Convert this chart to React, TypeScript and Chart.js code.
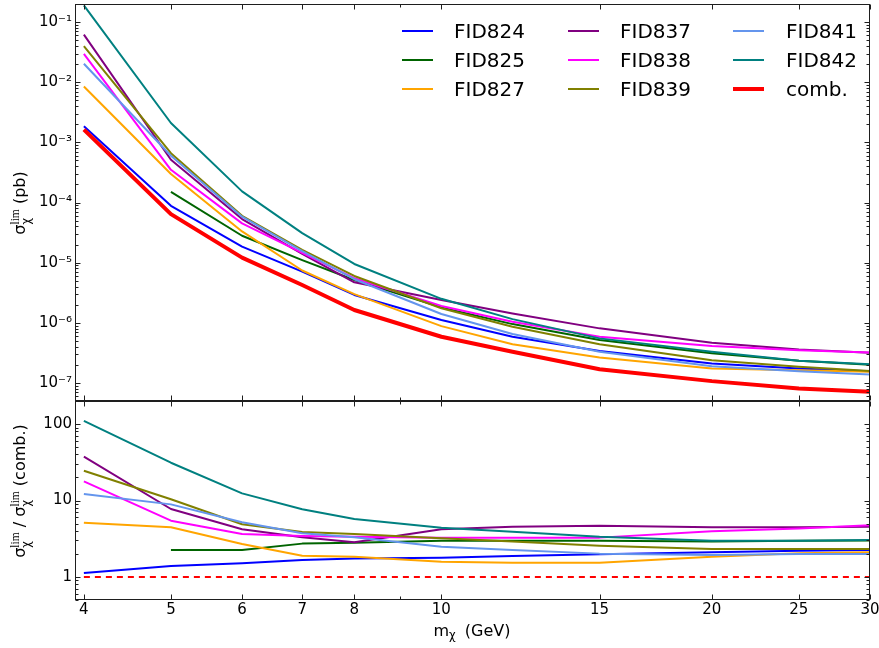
import React, { useEffect, useRef } from 'react';
import { Chart, registerables } from 'chart.js';

Chart.register(...registerables);
Chart.defaults.font.family = '"DejaVu Sans", sans-serif';
Chart.defaults.color = '#000';

// ---------------- data ----------------
const masses = [4, 5, 6, 7, 8, 10, 12, 15, 20, 25, 30];

// sigma_lim (pb)
const limFID824 = [1.85e-3, 8.8e-5, 1.85e-5, 7.1e-6, 2.9e-6, 1.11e-6, 5.85e-7, 3.4e-7, 2.1e-7, 1.74e-7, 1.56e-7];
const limFID825 = [null, 1.5e-4, 2.8e-5, 1.1e-5, 5.15e-6, 1.8e-6, 9.5e-7, 5.15e-7, 3.1e-7, 2.33e-7, 2.0e-7];
const limFID827 = [8.5e-3, 2.97e-4, 3.3e-5, 7.4e-6, 3.0e-6, 8.8e-7, 4.4e-7, 2.65e-7, 1.74e-7, 1.63e-7, 1.53e-7];
const limFID837 = [6.2e-2, 5.15e-4, 5.3e-5, 1.4e-5, 4.7e-6, 2.4e-6, 1.43e-6, 8.07e-7, 4.64e-7, 3.6e-7, 3.16e-7];
const limFID838 = [2.97e-2, 3.5e-4, 4.5e-5, 1.45e-5, 5.5e-6, 1.9e-6, 1.04e-6, 5.85e-7, 4.1e-7, 3.5e-7, 3.2e-7];
const limFID839 = [4.0e-2, 6.6e-4, 6.0e-5, 1.63e-5, 6.0e-6, 1.74e-6, 8.6e-7, 4.4e-7, 2.39e-7, 1.85e-7, 1.58e-7];
const limFID841 = [2.03e-2, 6.0e-4, 5.8e-5, 1.55e-5, 5.3e-6, 1.4e-6, 6.5e-7, 3.3e-7, 1.9e-7, 1.56e-7, 1.38e-7];
const limFID842 = [1.9e-1, 2.1e-3, 1.53e-4, 3.1e-5, 9.5e-6, 2.5e-6, 1.15e-6, 5.5e-7, 3.3e-7, 2.33e-7, 2.05e-7];
const limComb = [1.63e-3, 6.4e-5, 1.21e-5, 4.25e-6, 1.63e-6, 5.85e-7, 3.3e-7, 1.69e-7, 1.07e-7, 8.1e-8, 7.1e-8];

// sigma_lim / sigma_lim(comb.)
const ratioFID824 = [1.13, 1.39, 1.51, 1.67, 1.75, 1.79, 1.88, 1.98, 2.1, 2.21, 2.25];
const ratioFID825 = [null, 2.25, 2.25, 2.73, 2.81, 2.98, 2.98, 2.98, 2.9, 2.98, 3.0];
const ratioFID827 = [5.13, 4.46, 2.7, 1.9, 1.84, 1.58, 1.54, 1.54, 1.84, 2.04, 2.1];
const ratioFID837 = [37.4, 7.74, 4.2, 3.3, 2.84, 4.2, 4.55, 4.69, 4.46, 4.46, 4.55];
const ratioFID838 = [17.8, 5.45, 3.65, 3.44, 3.36, 3.27, 3.27, 3.27, 3.95, 4.3, 4.74];
const ratioFID839 = [24.5, 10.4, 4.89, 3.87, 3.65, 3.2, 2.9, 2.57, 2.32, 2.32, 2.32];
const ratioFID841 = [12.2, 8.9, 5.19, 3.72, 3.3, 2.49, 2.25, 2.02, 1.94, 2.0, 2.0];
const ratioFID842 = [110, 31.2, 12.4, 7.67, 5.73, 4.41, 3.91, 3.36, 2.98, 2.98, 3.05];
const ratioComb = [1, 1, 1, 1, 1, 1, 1, 1, 1, 1, 1];

const seriesNames = ['FID824', 'FID825', 'FID827', 'FID837', 'FID838', 'FID839', 'FID841', 'FID842', 'comb.'];
const seriesColors = ['#0000ff', '#006400', '#ffa500', '#800080', '#ff00ff', '#808000', '#6495ed', '#008080', '#ff0000'];
const limSeries = [limFID824, limFID825, limFID827, limFID837, limFID838, limFID839, limFID841, limFID842, limComb];
const ratioSeries = [ratioFID824, ratioFID825, ratioFID827, ratioFID837, ratioFID838, ratioFID839, ratioFID841, ratioFID842];

const xTickValues = [4, 5, 6, 7, 8, 10, 15, 20, 25, 30];
const xMinorTickValues = [9];
const topYTickValues = [1e-7, 1e-6, 1e-5, 1e-4, 1e-3, 1e-2, 1e-1];
const bottomYTickValues = [1, 10, 100];

// ---------------- helpers ----------------
const SUP: Record<string, string> = { '-': '\u207b', '0': '\u2070', '1': '\u00b9', '2': '\u00b2', '3': '\u00b3', '4': '\u2074', '5': '\u2075', '6': '\u2076', '7': '\u2077', '8': '\u2078', '9': '\u2079' };
const powLabel = (v: number) => '10' + String(Math.round(Math.log10(v))).split('').map((c) => SUP[c] || c).join('');

const W = 879;
const H = 648;
const PLOT_LEFT = 75;
const PLOT_RIGHT_PAD = 9;
const SPLIT = 401;
const PLOT_BOTTOM = 600;

const framePlugin = {
  id: 'axesFrame',
  afterDatasetsDraw(chart: any) {
    const { ctx, chartArea: a } = chart;
    const xs = chart.scales.x;
    const ys = chart.scales.y;
    ctx.save();
    ctx.strokeStyle = '#1e1e1e';
    ctx.lineWidth = 1;
    const L = Math.round(a.left) + 0.5;
    const R = Math.round(a.right) - 0.5;
    const T = Math.round(a.top) + 0.5;
    const B = Math.round(a.bottom) - 0.5;
    ctx.beginPath();
    const xt = (v: number, len: number) => {
      const p = Math.round(xs.getPixelForValue(v)) + 0.5;
      ctx.moveTo(p, B);
      ctx.lineTo(p, B - len);
      ctx.moveTo(p, T);
      ctx.lineTo(p, T + len);
    };
    xTickValues.forEach((v) => xt(v, 5));
    xMinorTickValues.forEach((v) => xt(v, 3));
    const yt = (v: number, len: number) => {
      const p = Math.round(ys.getPixelForValue(v)) + 0.5;
      ctx.moveTo(L, p);
      ctx.lineTo(L + len, p);
      ctx.moveTo(R, p);
      ctx.lineTo(R - len, p);
    };
    const lo = Math.floor(Math.log10(ys.min));
    const hi = Math.ceil(Math.log10(ys.max));
    for (let e = lo; e <= hi; e++) {
      for (let m = 1; m <= 9; m++) {
        const v = m * Math.pow(10, e);
        if (v < ys.min * 0.9999 || v > ys.max * 1.0001) continue;
        yt(v, m === 1 ? 5 : 3);
      }
    }
    ctx.stroke();
    ctx.strokeRect(L, T, R - L, B - T);
    ctx.restore();
  },
};

const tickFont = { size: 15, family: '"DejaVu Sans", sans-serif' };

const SigmaLim = () => (
  <span>
    σ
    <span
      style={{
        display: 'inline-flex',
        flexDirection: 'column',
        fontSize: '0.72em',
        lineHeight: 0.95,
        verticalAlign: '0.5em',
        textAlign: 'left',
      }}
    >
      <span style={{ fontFamily: '"Liberation Serif", serif' }}>lim</span>
      <span>χ</span>
    </span>
  </span>
);

export default function App() {
  const topRef = useRef<HTMLCanvasElement>(null);
  const botRef = useRef<HTMLCanvasElement>(null);

  useEffect(() => {
    document.body.style.margin = '0';
    const makeDatasets = (arrs: (number | null)[][]) =>
      arrs.map((arr, i) => ({
        label: seriesNames[i],
        data: masses.map((m, j) => ({ x: m, y: arr[j] })),
        borderColor: seriesColors[i],
        backgroundColor: seriesColors[i],
        borderWidth: i === 8 ? 4 : 2,
        pointRadius: 0,
        tension: 0,
        fill: false,
        spanGaps: false,
        borderJoinStyle: 'round' as const,
        order: arrs.length + 1 - i,
      }));

    const yAfterFit = (s: any) => {
      s.width = PLOT_LEFT;
      s.paddingTop = 0;
      s.paddingBottom = 0;
    };

    const top = new Chart(topRef.current!, {
      type: 'line',
      data: { datasets: makeDatasets(limSeries) as any },
      options: {
        animation: false,
        responsive: false,
        events: [],
        layout: { padding: { left: 0, right: PLOT_RIGHT_PAD, top: 4, bottom: H - SPLIT } },
        plugins: { legend: { display: false }, tooltip: { enabled: false } },
        scales: {
          x: { type: 'logarithmic', min: 3.91, max: 30, display: false },
          y: {
            type: 'logarithmic',
            min: 5e-8,
            max: 0.2,
            grid: { display: false, drawTicks: false },
            border: { display: false },
            ticks: { font: tickFont, color: '#000', padding: 3, autoSkip: false, callback: (v: any) => powLabel(Number(v)) },
            afterBuildTicks: (s: any) => {
              s.ticks = topYTickValues.map((v) => ({ value: v }));
            },
            afterFit: yAfterFit,
          },
        },
      } as any,
      plugins: [framePlugin],
    });

    const bottomDatasets = [
      {
        label: 'comb. ratio',
        data: masses.map((m, j) => ({ x: m, y: ratioComb[j] })),
        borderColor: '#ff0000',
        borderWidth: 2,
        borderDash: [6, 5],
        pointRadius: 0,
        tension: 0,
        fill: false,
        order: 20,
      },
      ...makeDatasets(ratioSeries),
    ];

    const bot = new Chart(botRef.current!, {
      type: 'line',
      data: { datasets: bottomDatasets as any },
      options: {
        animation: false,
        responsive: false,
        events: [],
        layout: { padding: { left: 0, right: PLOT_RIGHT_PAD, top: SPLIT, bottom: 0 } },
        plugins: { legend: { display: false }, tooltip: { enabled: false } },
        scales: {
          x: {
            type: 'logarithmic',
            min: 3.91,
            max: 30,
            grid: { display: false, drawTicks: false },
            border: { display: false },
            ticks: { font: tickFont, color: '#000', padding: 1, autoSkip: false, maxRotation: 0, minRotation: 0, callback: (v: any) => String(Number(v)) },
            afterBuildTicks: (s: any) => {
              s.ticks = xTickValues.map((v) => ({ value: v }));
            },
            afterFit: (s: any) => {
              s.height = H - PLOT_BOTTOM;
              s.paddingLeft = 0;
              s.paddingRight = 0;
            },
          },
          y: {
            type: 'logarithmic',
            min: 0.5,
            max: 200,
            grid: { display: false, drawTicks: false },
            border: { display: false },
            ticks: { font: tickFont, color: '#000', padding: 3, autoSkip: false, callback: (v: any) => String(Number(v)) },
            afterBuildTicks: (s: any) => {
              s.ticks = bottomYTickValues.map((v) => ({ value: v }));
            },
            afterFit: yAfterFit,
          },
        },
      } as any,
      plugins: [framePlugin],
    });

    return () => {
      top.destroy();
      bot.destroy();
    };
  }, []);

  const legendCols = [
    { lineX: 402, textX: 454 },
    { lineX: 568, textX: 620 },
    { lineX: 733, textX: 786 },
  ];
  const legendRows = [31, 59.5, 89];

  return (
    <div
      style={{
        position: 'fixed',
        left: 0,
        top: 0,
        width: W,
        height: H,
        background: '#fff',
        overflow: 'hidden',
        fontFamily: '"DejaVu Sans", sans-serif',
        color: '#000',
      }}
    >
      <canvas ref={botRef} width={W} height={H} style={{ position: 'absolute', left: 0, top: 0, width: W, height: H }} />
      <canvas ref={topRef} width={W} height={H} style={{ position: 'absolute', left: 0, top: 0, width: W, height: H }} />

      {seriesNames.map((name, i) => {
        const col = legendCols[Math.floor(i / 3)];
        const yc = legendRows[i % 3];
        const lw = i === 8 ? 4 : 2;
        return (
          <React.Fragment key={name}>
            <div
              style={{
                position: 'absolute',
                left: col.lineX,
                top: yc - lw / 2,
                width: 31,
                height: lw,
                background: seriesColors[i],
              }}
            />
            <div
              style={{
                position: 'absolute',
                left: col.textX,
                top: yc,
                transform: 'translateY(-50%)',
                fontSize: 20,
                lineHeight: 1,
                whiteSpace: 'nowrap',
              }}
            >
              {name}
            </div>
          </React.Fragment>
        );
      })}

      <div
        style={{
          position: 'absolute',
          left: 21,
          top: 203,
          transform: 'translate(-50%, -50%) rotate(-90deg)',
          whiteSpace: 'nowrap',
          fontSize: 16,
          lineHeight: 1.2,
        }}
      >
        <SigmaLim /> (pb)
      </div>

      <div
        style={{
          position: 'absolute',
          left: 21,
          top: 491,
          transform: 'translate(-50%, -50%) rotate(-90deg)',
          whiteSpace: 'nowrap',
          fontSize: 16,
          lineHeight: 1.2,
        }}
      >
        <SigmaLim /> / <SigmaLim /> (comb.)
      </div>

      <div
        style={{
          position: 'absolute',
          left: 472,
          top: 632,
          transform: 'translate(-50%, -50%)',
          whiteSpace: 'nowrap',
          fontSize: 16,
          lineHeight: 1.2,
        }}
      >
        m<span style={{ fontSize: '0.72em', verticalAlign: '-0.3em' }}>χ</span>
        <span style={{ marginLeft: 4 }}> (GeV)</span>
      </div>
    </div>
  );
}
